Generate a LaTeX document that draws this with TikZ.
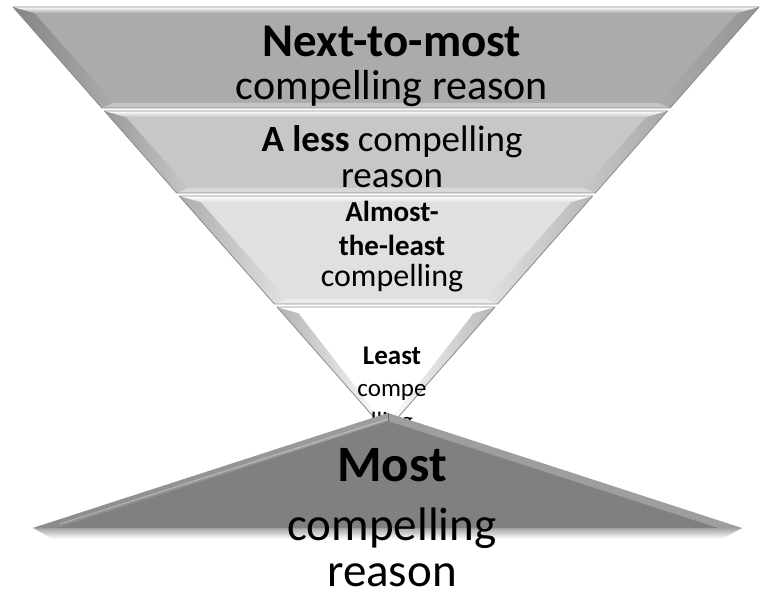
\documentclass[tikz,border=0pt]{standalone}
\usepackage{fontspec}
\setmainfont{Carlito}
\begin{document}
% One band of the funnel: #1 top y, #2 bottom y, #3 face, #4 left bevel, #5 right bevel, #6 top bevel
\newcommand\funnelband[6]{%
  \colorlet{bandface}{#3}%
  \pgfmathsetmacro\hA{373-0.88*(#1-7)}%
  \pgfmathsetmacro\hB{max(373-0.88*(#2-7),0)}%
  \pgfmathsetmacro\yI{#1+6}%
  \pgfmathsetmacro\yJ{#2-5}%
  \pgfmathsetmacro\hC{373-0.88*(\yI-7)-16}%
  \pgfmathsetmacro\hD{max(373-0.88*(\yJ-7)-16,0)}%
  \fill[bandface] (386-\hA,#1) -- (386+\hA,#1) -- (386+\hB,#2) -- (386-\hB,#2) -- cycle;
  \shade[left color=#4, right color=bandface] (386-\hA,#1) -- (386-\hC,\yI) -- (386-\hD,\yJ) -- (386-\hB,#2) -- cycle;
  \shade[right color=#5, left color=bandface] (386+\hA,#1) -- (386+\hC,\yI) -- (386+\hD,\yJ) -- (386+\hB,#2) -- cycle;
  \shade[top color=#6, bottom color=bandface] (386-\hA,#1) -- (386+\hA,#1) -- (386+\hC,\yI) -- (386-\hC,\yI) -- cycle;
  \fill[bandface!70!white] (386-\hB,#2) -- (386+\hB,#2) -- (386+\hD,\yJ) -- (386-\hD,\yJ) -- cycle;
  \draw[black!45, line width=0.8pt, line join=round] (386-\hA,#1) -- (386+\hA,#1) -- (386+\hB,#2) -- (386-\hB,#2) -- cycle;
}
\begin{tikzpicture}[x=1pt, y=-1pt,
  bold/.style={anchor=base, font=\bfseries\fontsize{#1}{#1}\selectfont, inner sep=0pt},
  plain/.style={anchor=base, font=\fontsize{#1}{#1}\selectfont, inner sep=0pt}]
\useasboundingbox (0,0) rectangle (763,593);
\fill[white] (0,0) rectangle (763,593);

% funnel bands, widest on top
\funnelband{7}{108}{black!33}{black!48}{black!42}{white}
\funnelband{111}{193}{black!22}{black!40}{black!34}{white}
\funnelband{196}{304}{black!12}{black!32}{black!28}{white}
\funnelband{307}{431}{white}{black!30}{black!28}{white}

% band texts
\node[bold=47] (t1a) at (392,57) {Next-to-most};
\node[plain=42] (t1b) at (392,100) {compelling reason};
\node[plain=37] (t2a) at (392,152) {\textbf{A less} compelling};
\node[plain=37] (t2b) at (392,188) {reason};
\node[bold=29] (t3a) at (392,222) {Almost-};
\node[bold=29] (t3b) at (392,256) {the-least};
\node[plain=32] (t3c) at (392,287) {compelling};
\node[bold=27] (t4a) at (392,365) {Least};
\node[plain=25] (t4b) at (392,397) {compe};
\node[plain=25] (t4c) at (392,429) {lling};

% soft shadow under the base
\shade[top color=black!35, bottom color=white] (33,528) -- (742,528) -- (722,539) -- (53,539) -- cycle;

% bottom triangle with bevelled slopes
\fill[black!38] (388,413) -- (742,528) -- (33,528) -- cycle;
\fill[black!50] (388,421) -- (718,528) -- (57,528) -- cycle;
\shade[left color=black!50, right color=black!38, opacity=0.6] (388,413) -- (388,421) -- (57,528) -- (33,528) -- cycle;
\draw[white, opacity=0.3, line width=1.2pt] (60,524) -- (388,419);
\draw[black!60, line width=0.6pt] (388,413) -- (388,421);

% bottom texts
\node[bold=51] (t5a) at (392,481) {Most};
\node[plain=47] (t5b) at (392,540) {compelling};
\node[plain=47] (t5c) at (392,586) {reason};
\end{tikzpicture}
\end{document}
